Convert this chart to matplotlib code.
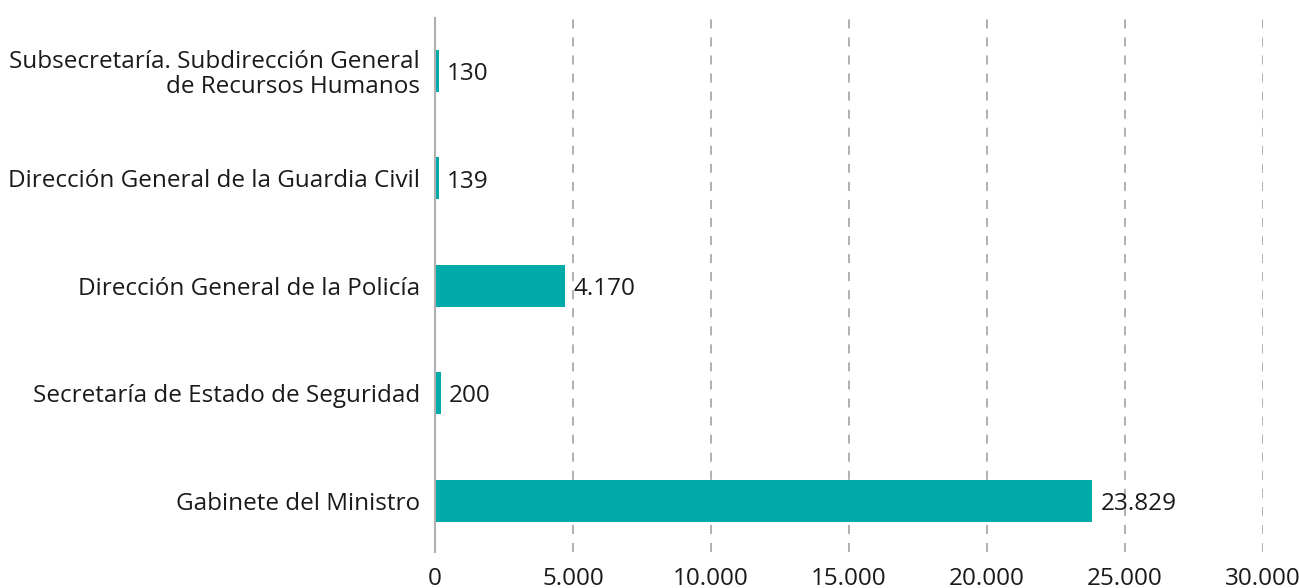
import matplotlib.pyplot as plt

plt.rcParams['font.family'] = ['Open Sans', 'DejaVu Sans']

categories = ['Gabinete del Ministro',
              'Secretaría de Estado de Seguridad',
              'Dirección General de la Policía',
              'Dirección General de la Guardia Civil',
              'Subsecretaría. Subdirección General\nde Recursos Humanos']
values = [23829, 200, 4710, 139, 130]
value_labels = ['23.829', '200', '4.170', '139', '130']
xticks = [0, 5000, 10000, 15000, 20000, 25000, 30000]
xtick_labels = ['0', '5.000', '10.000', '15.000', '20.000', '25.000', '30.000']

fig = plt.figure(figsize=(12.99, 5.88), dpi=100)
ax = fig.add_axes([0.335, 0.061, 0.637, 0.908])

ypos = range(len(categories))
ax.barh(ypos, values, height=0.39, color='#00aba9', zorder=3)
for y, v, lab in zip(ypos, values, value_labels):
    ax.text(v + 290, y - 0.03, lab, va='center', ha='left', fontsize=17.5, color='#1a1a1a', zorder=4)

ax.set_xlim(0, 30000)
ax.set_ylim(-0.48, 4.49)
ax.set_yticks(list(ypos))
ax.set_yticklabels(categories, fontsize=17.5, color='#1a1a1a', ha='right', multialignment='right',
                   linespacing=1.05)
ax.set_xticks(xticks)
ax.set_xticklabels(xtick_labels, fontsize=17.5, color='#1a1a1a')
ax.tick_params(axis='both', length=0)
ax.tick_params(axis='y', pad=11)
ax.tick_params(axis='x', pad=11)

ax.grid(axis='x', color='#aaaaaa', linestyle=(0, (5, 5)), linewidth=1.3, zorder=0)
ax.xaxis.get_gridlines()[0].set_visible(False)
for s in ['top', 'right', 'bottom']:
    ax.spines[s].set_visible(False)
ax.spines['left'].set_color('#b0b0b0')
ax.spines['left'].set_linewidth(1.5)
ax.spines['left'].set_zorder(5)

fig.savefig('out.png', dpi=100)
